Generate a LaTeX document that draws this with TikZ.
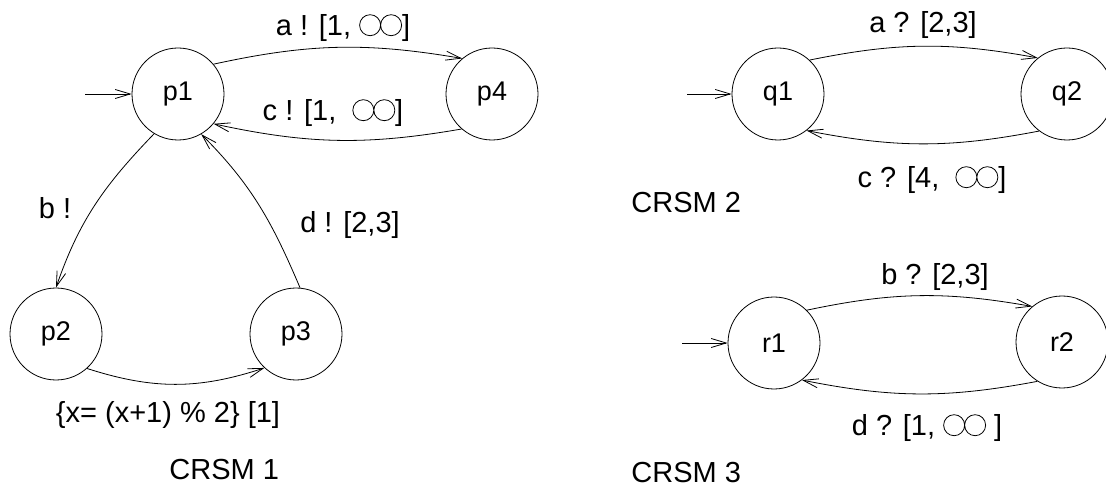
\documentclass[tikz,border=0pt]{standalone}
\usepackage{fontspec}
\setmainfont{Liberation Sans}
\usetikzlibrary{arrows.meta}

% open double circle used for the upper bound
\newcommand{\infc}{\tikz[baseline=0pt, x=1pt, y=1pt, line width=0.8pt]{%
  \draw (10.5,10.5) circle[radius=10.5pt] (31.5,10.5) circle[radius=10.5pt];}}

\begin{document}
\begin{tikzpicture}[x=1pt, y=-1pt, line width=0.8pt,
  font=\fontsize{29}{34}\selectfont,
  state/.style={draw, circle, minimum size=92pt, inner sep=0pt,
    font=\fontsize{27}{32}\selectfont},
  trans/.style={-{Straight Barb[length=15pt, width=9pt]}},
  lbl/.style={inner sep=1pt}]
  \useasboundingbox (0,0) rectangle (1106,494);

  % CRSM 1
  \node[state] (p1) at (178,94) {p1};
  \node[state] (p4) at (492,94) {p4};
  \node[state] (p2) at (56,334) {p2};
  \node[state] (p3) at (296,334) {p3};
  \coordinate (p1in) at (85,94);

  \draw[trans] (p1in) -- (p1);
  \draw[trans] (p1.40) to[bend left=11] (p4.130);
  \draw[trans] (p4.229) to[bend left=11] (p1.320);
  \draw[trans] (p1.239) to[out=226, in=71] (p2.90);
  \draw[trans] (p2.312) to[bend right=18] (p3.227);
  \draw[trans] (p3.85) to[out=113, in=-45] (p1.300);

  \node[lbl] (la) at (343,28) {a ! [1, \infc]};
  \node[lbl] (lc) at (333,113) {c ! [1,\ \ \infc]};
  \node[lbl] (lb) at (55,208) {b !};
  \node[lbl] (ld) at (350,225) {d ! [2,3]};
  \node[lbl] (lx) at (168,415) {\{x= (x+1) \% 2\} [1]};
  \node[lbl, anchor=west] (crsm1) at (168,470) {CRSM 1};

  % CRSM 2
  \node[state] (q1) at (778,94) {q1};
  \node[state] (q2) at (1067,94) {q2};
  \coordinate (q1in) at (687,94);

  \draw[trans] (q1in) -- (q1);
  \draw[trans] (q1.47) to[bend left=11] (q2.129);
  \draw[trans] (q2.233) to[bend left=11] (q1.308);

  \node[lbl] (qa) at (923,25) {a ? [2,3]};
  \node[lbl] (qc) at (932,180) {c ? [4,\ \ \infc]};
  \node[lbl, anchor=west] (crsm2) at (630,203) {CRSM 2};

  % CRSM 3
  \node[state] (r1) at (774,343) {r1};
  \node[state] (r2) at (1062,342) {r2};
  \coordinate (r1in) at (682,343);

  \draw[trans] (r1in) -- (r1);
  \draw[trans] (r1.45) to[bend left=11] (r2.130);
  \draw[trans] (r2.238) to[bend left=11] (r1.307);

  \node[lbl] (rb) at (935,277) {b ? [2,3]};
  \node[lbl] (rd) at (927,428) {d ? [1, \infc\ ]};
  \node[lbl, anchor=west] (crsm3) at (630,473) {CRSM 3};
\end{tikzpicture}
\end{document}
